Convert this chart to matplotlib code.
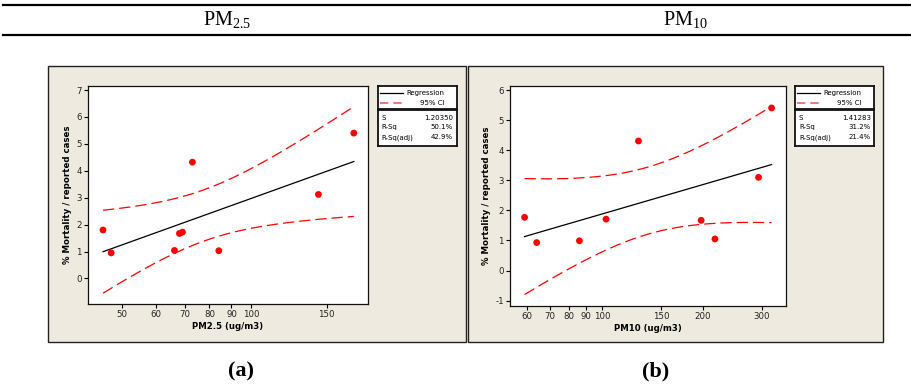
import numpy as np
import matplotlib
matplotlib.use("Agg")
import matplotlib.pyplot as plt
from matplotlib.patches import Rectangle
from matplotlib.lines import Line2D
from matplotlib.ticker import FixedLocator, NullLocator, FixedFormatter

plt.rcParams['font.family'] = ['DejaVu Sans']
plt.rcParams['mathtext.fontset'] = 'custom'
plt.rcParams['mathtext.rm'] = 'Liberation Serif'
plt.rcParams['mathtext.it'] = 'Liberation Serif:italic'

# ---------------- data ----------------
pm25_x = [45.2, 47.2, 66.3, 68.1, 69.2, 73.0, 84.1, 143.5, 173.5]
pm25_y = [1.80, 0.95, 1.04, 1.67, 1.72, 4.32, 1.03, 3.12, 5.40]
pm10_x = [58.9, 64.0, 85.8, 103.0, 128.6, 197.7, 217.3, 293.0, 320.4]
pm10_y = [1.77, 0.93, 0.99, 1.71, 4.31, 1.67, 1.05, 3.10, 5.41]

pm25_xticks = [50, 60, 70, 80, 90, 100, 150]
pm10_xticks = [60, 70, 80, 90, 100, 150, 200, 300]
pm25_yticks = [0, 1, 2, 3, 4, 5, 6, 7]
pm10_yticks = [-1, 0, 1, 2, 3, 4, 5, 6]

pm25_stats = [("S", "1.20350"), ("R-Sq", "50.1%"), ("R-Sq(adj)", "42.9%")]
pm10_stats = [("S", "1.41283"), ("R-Sq", "31.2%"), ("R-Sq(adj)", "21.4%")]

T_975_DF7 = 2.3646  # t quantile for 95% CI with n-2 = 7 df

W, H = 911, 384
fig = plt.figure(figsize=(W / 100, H / 100), dpi=100)
fig.patch.set_facecolor('white')


def fx(x):
    return x / W


def fy(y):
    return 1 - y / H


def px_rect(x0, y0, x1, y1):
    return [fx(x0), fy(y1), (x1 - x0) / W, (y1 - y0) / H]


# table rules
for yy in (5, 35):
    fig.add_artist(Line2D([fx(3), fx(911)], [fy(yy), fy(yy)], color='black', lw=1.6,
                          transform=fig.transFigure))

fig.text(fx(227), fy(20), r"PM$_{\mathrm{2.5}}$", ha='center', va='center',
         family='Liberation Serif', fontsize=14.5)
fig.text(fx(685), fy(20), r"PM$_{\mathrm{10}}$", ha='center', va='center',
         family='Liberation Serif', fontsize=14.5)

beige = '#EEEAE0'
for (x0, x1) in ((48, 466), (467.5, 883)):
    fig.add_artist(Rectangle((fx(x0), fy(342)), (x1 - x0) / W, (342 - 66) / H,
                             facecolor=beige, edgecolor='#222222', lw=1.0,
                             transform=fig.transFigure, zorder=-1))

fig.text(fx(241), fy(371), "(a)", ha='center', va='center', family='Liberation Serif',
         fontweight='bold', fontsize=16)
fig.text(fx(656), fy(371), "(b)", ha='center', va='center', family='Liberation Serif',
         fontweight='bold', fontsize=16)


def fitted_plot(rect, xs, ys, xticks, yticks, xlim, ylim, xlabel):
    ax = fig.add_axes(rect)
    ax.set_facecolor('white')
    xs = np.asarray(xs, float)
    ys = np.asarray(ys, float)
    lx = np.log10(xs)
    n = len(xs)
    slope, icpt = np.polyfit(lx, ys, 1)
    resid = ys - (icpt + slope * lx)
    s = np.sqrt(np.sum(resid ** 2) / (n - 2))
    sxx = np.sum((lx - lx.mean()) ** 2)
    grid = np.linspace(lx.min(), lx.max(), 200)
    fit = icpt + slope * grid
    half = T_975_DF7 * s * np.sqrt(1 / n + (grid - lx.mean()) ** 2 / sxx)
    ax.set_xscale('log')
    ax.plot(10 ** grid, fit, color='black', lw=0.9, zorder=2)
    ax.plot(10 ** grid, fit + half, color='#FF0000', lw=0.9, ls=(0, (9, 4)), zorder=2)
    ax.plot(10 ** grid, fit - half, color='#FF0000', lw=0.9, ls=(0, (9, 4)), zorder=2)
    ax.scatter(xs, ys, s=24, color='#FF0000', edgecolors='none', zorder=3)
    ax.set_xlim(*xlim)
    ax.set_ylim(*ylim)
    ax.xaxis.set_major_locator(FixedLocator(xticks))
    ax.xaxis.set_major_formatter(FixedFormatter([str(t) for t in xticks]))
    ax.xaxis.set_minor_locator(NullLocator())
    ax.set_yticks(yticks)
    ax.set_yticklabels([str(t) for t in yticks])
    ax.tick_params(axis='both', direction='out', length=3, width=0.8, labelsize=6.2,
                   pad=1.5, colors='black', labelcolor='#222222')
    for sp in ax.spines.values():
        sp.set_linewidth(0.9)
        sp.set_color('#111111')
    ax.set_xlabel(xlabel, fontsize=6.2, fontweight='bold', labelpad=2)
    ax.set_ylabel("% Mortality / reported cases", fontsize=6.2, fontweight='bold', labelpad=3)
    return ax


def legend_boxes(x0, x1, stats):
    lax = fig.add_axes(px_rect(x0, 86, x1, 109))
    lax.set_xlim(0, 1)
    lax.set_ylim(0, 1)
    lax.set_xticks([])
    lax.set_yticks([])
    for sp in lax.spines.values():
        sp.set_linewidth(1.3)
        sp.set_color('#111111')
    lax.plot([0.03, 0.32], [0.70, 0.70], color='black', lw=0.9)
    lax.plot([0.03, 0.32], [0.26, 0.26], color='#F06060', lw=1.2, ls=(0, (5, 3)))
    lax.text(0.84, 0.70, "Regression", ha='right', va='center', fontsize=5)
    lax.text(0.84, 0.26, "95% CI", ha='right', va='center', fontsize=5)

    sax = fig.add_axes(px_rect(x0, 110, x1, 146))
    sax.set_xlim(0, 1)
    sax.set_ylim(0, 1)
    sax.set_xticks([])
    sax.set_yticks([])
    for sp in sax.spines.values():
        sp.set_linewidth(1.3)
        sp.set_color('#111111')
    for (name, val), yy in zip(stats, (0.79, 0.52, 0.24)):
        sax.text(0.05, yy, name, ha='left', va='center', fontsize=5)
        sax.text(0.955, yy, val, ha='right', va='center', fontsize=5)


fitted_plot(px_rect(88, 86, 368, 304), pm25_x, pm25_y, pm25_xticks, pm25_yticks,
            (41.7, 187.2), (-0.95, 7.15), "PM2.5 (ug/m3)")
fitted_plot(px_rect(510, 86, 786, 306), pm10_x, pm10_y, pm10_xticks, pm10_yticks,
            (53.3, 353.7), (-1.18, 6.14), "PM10 (ug/m3)")
legend_boxes(377.7, 456.7, pm25_stats)
legend_boxes(795, 874.3, pm10_stats)

fig.savefig("out.png", dpi=100, facecolor='white')
